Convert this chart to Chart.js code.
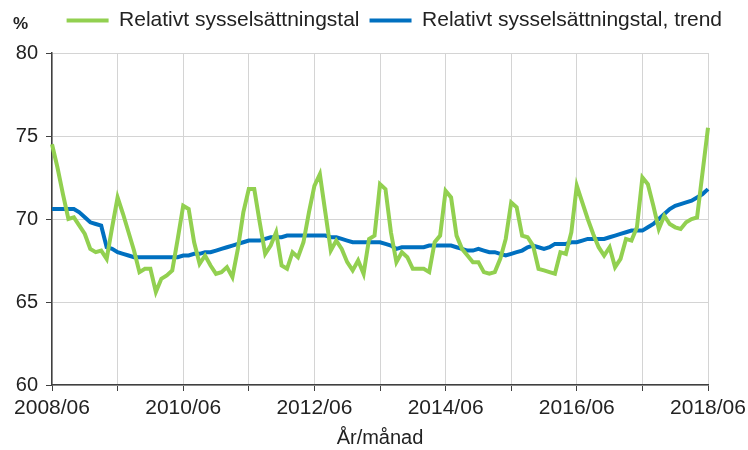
<!DOCTYPE html>
<html>
<head>
<meta charset="utf-8">
<script src="https://cdn.jsdelivr.net/npm/chart.js@4.4.1/dist/chart.umd.min.js"></script>
<style>
  html, body { margin: 0; padding: 0; background: #fff; }
  #wrap { width: 748px; height: 450px; }
</style>
</head>
<body>
<div id="wrap"><canvas id="employmentChart"></canvas></div>
<script>
// Month labels 2008/06 .. 2018/06
const months = [];
let yr = 2008, mo = 6;
while (months.length < 121) {
    months.push(yr + "/" + String(mo).padStart(2, "0"));
    mo++;
    if (mo > 12) { mo = 1; yr++; }
}

// Relativt sysselsättningstal (monthly)
const rate = [
    74.5, 73.1, 71.5, 70.0, 70.1, 69.6, 69.1, 68.2, 68.0, 68.1, 67.6, 69.5,
    71.3, 70.3, 69.2, 68.1, 66.8, 67.0, 67.0, 65.6, 66.4, 66.6, 66.9, 68.8,
    70.8, 70.6, 68.6, 67.3, 67.8, 67.2, 66.7, 66.8, 67.1, 66.5, 68.2, 70.4,
    71.8, 71.8, 69.8, 67.9, 68.4, 69.2, 67.2, 67.0, 68.0, 67.7, 68.6, 70.4,
    72.0, 72.7, 70.4, 68.1, 68.7, 68.2, 67.4, 66.9, 67.5, 66.7, 68.8, 69.0,
    72.1, 71.8, 69.2, 67.4, 68.0, 67.7, 67.0, 67.0, 67.0, 66.8, 68.6, 69.0,
    71.7, 71.3, 69.0, 68.2, 67.8, 67.4, 67.4, 66.8, 66.7, 66.8, 67.6, 68.8,
    71.0, 70.7, 69.0, 68.9, 68.4, 67.0, 66.9, 66.8, 66.7, 68.0, 67.9, 69.2,
    72.0, 71.0, 70.0, 69.1, 68.3, 67.8, 68.3, 67.1, 67.6, 68.8, 68.7, 69.5,
    72.5, 72.1, 70.8, 69.4, 70.2, 69.7, 69.5, 69.4, 69.8, 70.0, 70.1, 72.8,
    75.5
];

// Relativt sysselsättningstal, trend
const trend = [
    70.6, 70.6, 70.6, 70.6, 70.6, 70.4, 70.1, 69.8, 69.7, 69.6, 68.3, 68.2,
    68.0, 67.9, 67.8, 67.7, 67.7, 67.7, 67.7, 67.7, 67.7, 67.7, 67.7, 67.7,
    67.8, 67.8, 67.9, 67.9, 68.0, 68.0, 68.1, 68.2, 68.3, 68.4, 68.5, 68.6,
    68.7, 68.7, 68.7, 68.8, 68.9, 68.9, 68.9, 69.0, 69.0, 69.0, 69.0, 69.0,
    69.0, 69.0, 69.0, 68.9, 68.9, 68.8, 68.7, 68.6, 68.6, 68.6, 68.6, 68.6,
    68.6, 68.5, 68.4, 68.2, 68.3, 68.3, 68.3, 68.3, 68.3, 68.4, 68.4, 68.4,
    68.4, 68.4, 68.3, 68.2, 68.1, 68.1, 68.2, 68.1, 68.0, 68.0, 67.9, 67.8,
    67.9, 68.0, 68.1, 68.3, 68.4, 68.3, 68.2, 68.3, 68.5, 68.5, 68.5, 68.6,
    68.6, 68.7, 68.8, 68.8, 68.8, 68.8, 68.9, 69.0, 69.1, 69.2, 69.3, 69.3,
    69.3, 69.5, 69.7, 70.0, 70.3, 70.6, 70.8, 70.9, 71.0, 71.1, 71.3, 71.5,
    71.8
];

const yTicks = [60, 65, 70, 75, 80];

const FONT = "'Liberation Sans', Arial, sans-serif";
const AXIS = "#404040";
const GRID = "#d4d4d4";

// "%" unit label in the top left corner
const unitLabel = {
    id: "unitLabel",
    afterDraw(chart) {
        const ctx = chart.ctx;
        ctx.save();
        ctx.font = "bold 17px " + FONT;
        ctx.fillStyle = "#222";
        ctx.textBaseline = "middle";
        ctx.fillText("%", 13, 24);
        ctx.restore();
    }
};

// extra room under the legend and nudge it left a bit
const legendSpace = {
    id: "legendSpace",
    beforeInit(chart) {
        const fit = chart.legend.fit;
        chart.legend.fit = function () {
            fit.call(this);
            this.height += 12;
        };
    },
    afterLayout(chart) {
        chart.legend.right -= 16;
    }
};

new Chart(document.getElementById("employmentChart"), {
    type: "line",
    data: {
        labels: months,
        datasets: [
            {
                label: "Relativt sysselsättningstal",
                data: rate,
                borderColor: "#92d050",
                backgroundColor: "#92d050",
                borderWidth: 4,
                pointRadius: 0,
                tension: 0,
                fill: false
            },
            {
                label: "Relativt sysselsättningstal, trend",
                data: trend,
                borderColor: "#0070c0",
                backgroundColor: "#0070c0",
                borderWidth: 4,
                pointRadius: 0,
                tension: 0,
                fill: false
            }
        ]
    },
    options: {
        responsive: true,
        maintainAspectRatio: false,
        animation: false,
        layout: { padding: { left: 0, right: 0, top: 0, bottom: 0 } },
        plugins: {
            tooltip: { enabled: false },
            legend: {
                position: "top",
                align: "end",
                labels: {
                    usePointStyle: true,
                    pointStyle: "line",
                    pointStyleWidth: 42,
                    padding: 10,
                    color: "#222",
                    font: { family: FONT, size: 21 }
                }
            }
        },
        scales: {
            x: {
                type: "category",
                offset: false,
                afterFit: (scale) => {
                    scale.height = 65;
                    scale.paddingRight = 40;
                },
                grid: {
                    color: (c) => c.index % 12 === 0 ? GRID : "transparent",
                    tickColor: (c) => c.index % 12 === 0 ? AXIS : "transparent",
                    tickLength: 6,
                    lineWidth: 1
                },
                border: { color: AXIS, width: 1.5 },
                ticks: {
                    autoSkip: false,
                    maxRotation: 0,
                    color: "#222",
                    padding: 5,
                    font: { family: FONT, size: 21 },
                    callback: (v, i) => i % 24 === 0 ? months[i] : ""
                },
                title: {
                    display: true,
                    text: "År/månad",
                    color: "#222",
                    padding: { top: 2, bottom: 0 },
                    font: { family: FONT, size: 20 }
                }
            },
            y: {
                min: 60,
                max: 80,
                afterFit: (scale) => { scale.width = 52; },
                afterBuildTicks: (scale) => { scale.ticks = yTicks.map(v => ({ value: v })); },
                grid: {
                    color: GRID,
                    tickColor: AXIS,
                    tickLength: 6
                },
                border: { color: AXIS, width: 1.5 },
                ticks: {
                    color: "#222",
                    padding: 8,
                    font: { family: FONT, size: 20 }
                }
            }
        }
    },
    plugins: [unitLabel, legendSpace]
});
</script>
</body>
</html>
